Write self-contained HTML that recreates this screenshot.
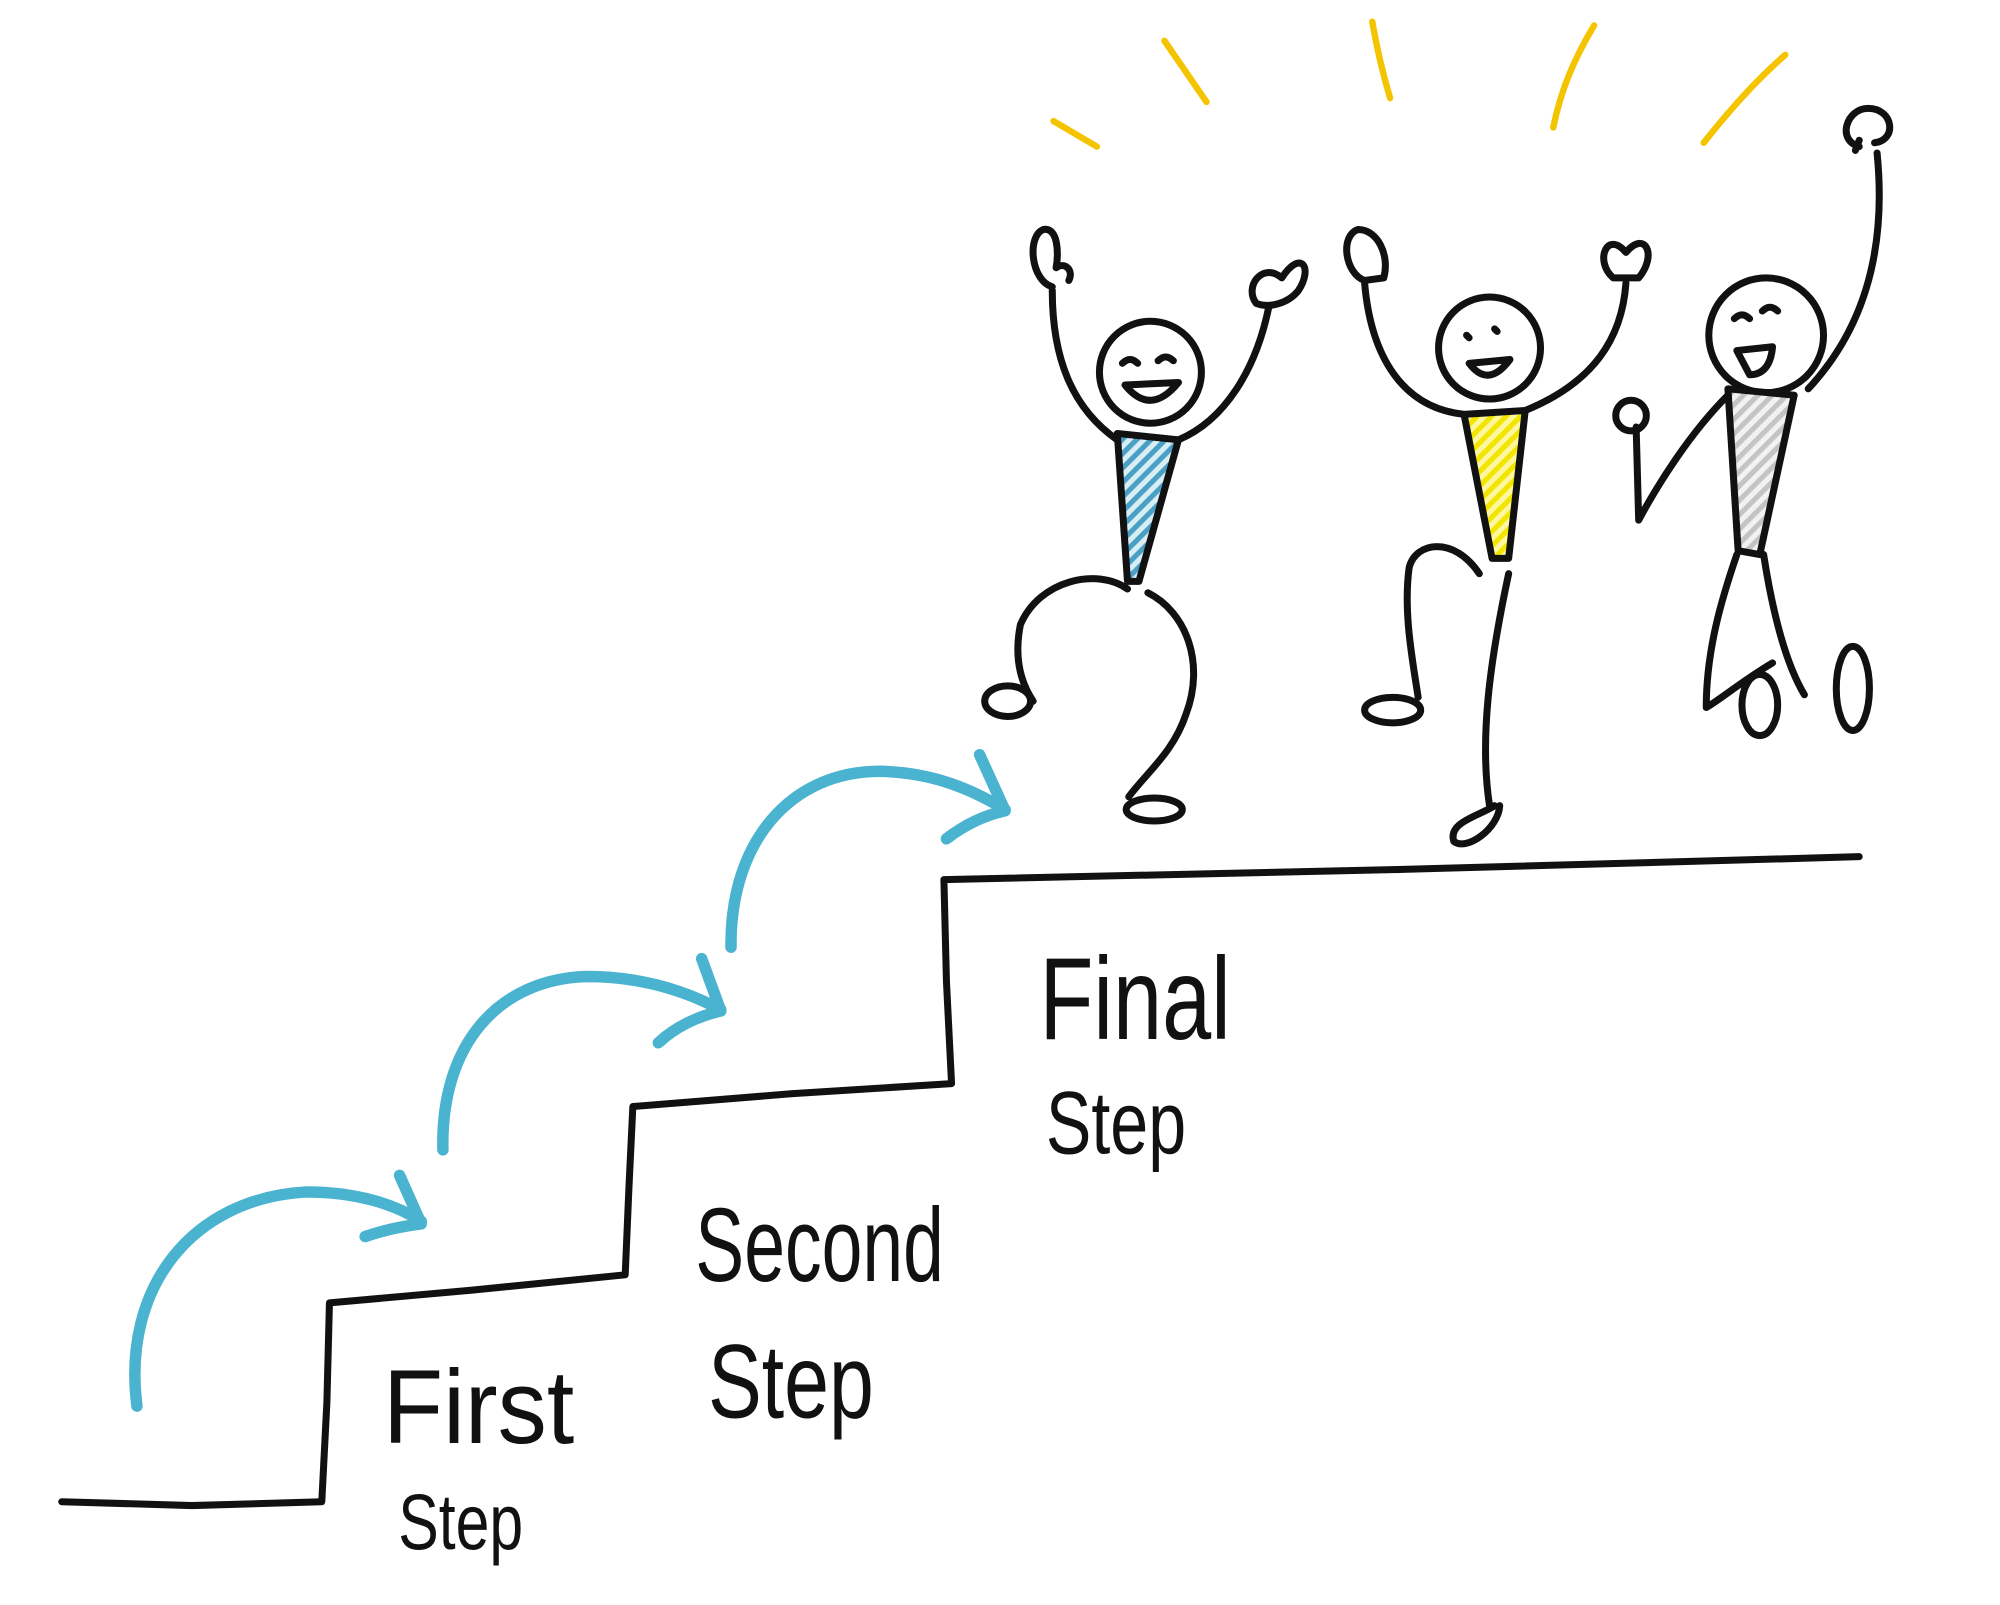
<!DOCTYPE html>
<html><head><meta charset="utf-8"><style>
html,body{margin:0;padding:0;background:#fff;}
svg{display:block;}
text{font-family:"Liberation Sans",sans-serif;fill:#111;}
</style></head><body>
<svg width="2000" height="1605" viewBox="0 0 1568 1259" xmlns="http://www.w3.org/2000/svg">
<defs>
<pattern id="hb" width="8" height="8" patternUnits="userSpaceOnUse" patternTransform="rotate(45)"><rect width="8" height="8" fill="#d8eef5"/><rect width="4" height="8" fill="#4aa0c4"/></pattern>
<pattern id="hy" width="8" height="8" patternUnits="userSpaceOnUse" patternTransform="rotate(45)"><rect width="8" height="8" fill="#fff7a0"/><rect width="4" height="8" fill="#f2e600"/></pattern>
<pattern id="hg" width="8" height="8" patternUnits="userSpaceOnUse" patternTransform="rotate(45)"><rect width="8" height="8" fill="#f2f2f2"/><rect width="4" height="8" fill="#c4c4c4"/></pattern>
</defs>
<g fill="none" stroke="#111" stroke-width="5.5" stroke-linecap="round" stroke-linejoin="round">
<path d="M48 1178 L150 1181 L252 1178 L256 1100 L258 1022 L370 1012 L490 1000 L493 930 L496 868 L620 858 L746 850 L742 770 L740 690 L1100 682 L1458 672"/>
</g>
<g fill="none" stroke="#4ab3cf" stroke-width="9" stroke-linecap="round" stroke-linejoin="round">
<path d="M107 1103 C95 1010 150 940 240 935 C280 935 310 945 330 958"/>
<path d="M286 970 C300 965 315 962 330 960 L313 922"/>
<path d="M347 902 C345 820 390 768 460 766 C500 766 535 776 565 792"/>
<path d="M516 818 C530 805 548 797 565 793 L550 752"/>
<path d="M573 743 C572 660 620 605 690 605 C730 606 760 618 788 635"/>
<path d="M742 658 C755 648 770 640 788 636 L768 592"/>
</g>
<g stroke="#f5c400" stroke-width="5" stroke-linecap="round" fill="none">
<path d="M826 95 L860 115"/><path d="M913 32 L946 80"/><path d="M1076 17 C1080 40 1085 60 1090 77"/><path d="M1250 20 C1235 45 1224 70 1218 100"/><path d="M1400 43 C1375 65 1355 88 1336 112"/>
</g>
<g fill="none" stroke="#111" stroke-width="5.5" stroke-linecap="round" stroke-linejoin="round">
<circle cx="902" cy="292" r="40"/>
<path d="M880 285 q6 -6 12 0 M908 283 q6 -6 12 0"/>
<path d="M882 302 q20 25 42 -2 z"/>
<path d="M876 340 L924 345 L893 456 L884 456 Z" fill="url(#hb)"/>
<path d="M876 345 C840 320 825 280 825 228"/>
<path d="M825 225 C808 220 805 185 818 180 C830 178 830 200 828 210 C835 205 842 212 838 220"/>
<path d="M924 345 C960 330 985 290 995 240"/>
<path d="M985 238 C975 225 990 205 1005 218 C1020 195 1030 210 1018 228 C1010 238 995 242 985 238"/>
<path d="M884 462 C860 445 815 455 800 490 C795 515 800 535 810 550"/>
<ellipse cx="790" cy="550" rx="18" ry="12"/>
<path d="M900 465 C930 480 945 520 930 560 C920 590 900 605 885 625"/>
<ellipse cx="905" cy="635" rx="22" ry="9"/>
<circle cx="1168" cy="273" r="40"/>
<path d="M1150 263 l2 2 M1172 258 l2 2"/>
<path d="M1152 285 q15 20 32 -3 z"/>
<path d="M1148 325 L1196 322 L1183 438 L1170 438 Z" fill="url(#hy)"/>
<path d="M1148 325 C1100 320 1075 280 1070 222"/>
<path d="M1070 220 C1055 215 1050 185 1065 180 C1080 180 1090 200 1085 218 Z"/>
<path d="M1196 322 C1250 300 1272 265 1275 222"/>
<path d="M1265 218 C1250 205 1260 180 1275 198 C1290 180 1300 200 1285 218 Z"/>
<path d="M1160 450 C1140 420 1110 425 1105 445 C1100 480 1108 520 1112 547"/>
<ellipse cx="1092" cy="557" rx="22" ry="10"/>
<path d="M1183 450 C1168 520 1160 580 1168 632"/>
<path d="M1172 632 C1160 640 1135 645 1140 660 C1150 668 1175 650 1176 632"/>
<circle cx="1385" cy="263" r="45"/>
<path d="M1360 250 q6 -6 12 0 M1382 244 q6 -6 12 0"/>
<path d="M1362 275 l28 -3 q-2 22 -18 22 z"/>
<path d="M1355 305 L1407 310 L1380 435 L1363 432 Z" fill="url(#hg)"/>
<path d="M1418 305 C1460 260 1480 200 1472 120"/>
<path d="M1458 115 C1440 110 1448 85 1465 85 C1485 85 1488 110 1470 112 M1455 118 l3 -8"/>
<path d="M1355 310 C1325 340 1300 380 1285 408 L1283 335"/>
<circle cx="1279" cy="326" r="12"/>
<path d="M1362 435 C1350 470 1338 510 1338 555 C1350 548 1365 535 1390 520"/>
<ellipse cx="1380" cy="553" rx="14" ry="24"/>
<path d="M1383 435 C1390 480 1400 520 1415 545"/>
<ellipse cx="1453" cy="540" rx="13" ry="33"/>
</g>
<g font-weight="normal">
<text x="300" y="1132" font-size="82" textLength="150" lengthAdjust="spacingAndGlyphs">First</text>
<text x="312" y="1215" font-size="62" textLength="98" lengthAdjust="spacingAndGlyphs">Step</text>
<text x="545" y="1005" font-size="82" textLength="195" lengthAdjust="spacingAndGlyphs">Second</text>
<text x="555" y="1112" font-size="82" textLength="130" lengthAdjust="spacingAndGlyphs">Step</text>
<text x="815" y="815" font-size="92" textLength="150" lengthAdjust="spacingAndGlyphs">Final</text>
<text x="820" y="905" font-size="70" textLength="110" lengthAdjust="spacingAndGlyphs">Step</text>
</g>
</svg>
</body></html>
